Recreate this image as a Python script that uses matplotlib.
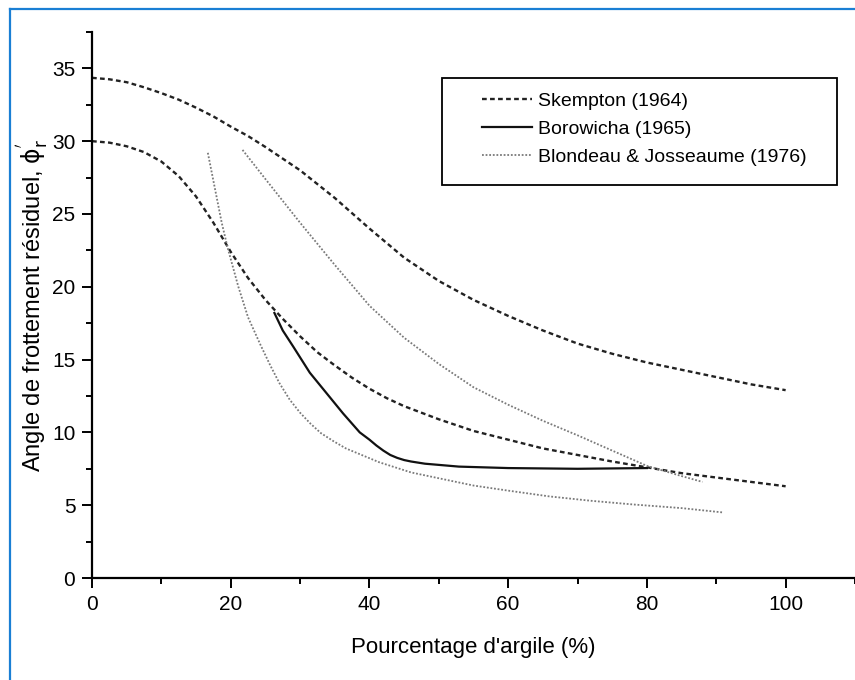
import numpy as np
import matplotlib
matplotlib.use("Agg")
from matplotlib import pyplot as plt
from matplotlib.lines import Line2D
from matplotlib.patches import Rectangle
from matplotlib.ticker import MultipleLocator

plt.rcParams['font.family'] = ['Liberation Sans', 'DejaVu Sans']

# Skempton (1964) - deux courbes enveloppes
skempton_haut_x = [0, 2.5, 5, 7.5, 10, 12.5, 15, 17.5, 20, 22.5, 25, 27.5, 30, 35, 40, 45, 50, 55, 60,
                   65, 70, 75, 80, 85, 90, 95, 100]
skempton_haut_y = [34.35, 34.25, 34.05, 33.7, 33.3, 32.85, 32.3, 31.7, 31.0, 30.35, 29.6, 28.8, 28.0,
                   26.1, 24.0, 22.0, 20.4, 19.1, 18.0, 17.0, 16.1, 15.4, 14.8, 14.3, 13.8, 13.3, 12.9]
skempton_bas_x = [0, 2.5, 5, 7.5, 10, 12.5, 15, 17.5, 20, 22.5, 25, 27.5, 30, 32.5, 35, 37.5, 40,
                  42.5, 45, 50, 55, 60, 65, 70, 75, 80, 85, 90, 95, 100]
skempton_bas_y = [30.0, 29.9, 29.65, 29.25, 28.6, 27.6, 26.2, 24.4, 22.4, 20.6, 19.1, 17.8, 16.6,
                  15.5, 14.6, 13.75, 13.0, 12.35, 11.8, 10.9, 10.1, 9.5, 8.9, 8.45, 8.0, 7.6, 7.2,
                  6.9, 6.6, 6.3]

# Borowicha (1965)
borowicha_x = [26.3, 27.5, 29, 31.4, 33.8, 36.2, 38.6, 40, 41, 42, 43, 44, 45, 46, 48, 52.9, 60, 70, 80]
borowicha_y = [18.2, 17.0, 15.9, 14.1, 12.7, 11.3, 10.0, 9.5, 9.1, 8.75, 8.45, 8.25, 8.1, 8.0, 7.85,
               7.65, 7.55, 7.5, 7.55]

# Blondeau & Josseaume (1976) - deux courbes
blondeau_a_x = [16.7, 17.7, 18.7, 19.6, 21.1, 22.5, 24.3, 25.7, 27, 28.5, 30, 31.5, 33, 34.8, 36.6,
                41.4, 46, 51, 55, 60, 66, 72, 78, 85, 91]
blondeau_a_y = [29.2, 26.8, 24.4, 22.6, 20.0, 17.9, 16.0, 14.6, 13.4, 12.25, 11.35, 10.6, 9.95, 9.4,
                8.9, 7.95, 7.25, 6.75, 6.35, 6.0, 5.6, 5.3, 5.05, 4.8, 4.5]
blondeau_b_x = [21.7, 25, 30, 35, 40, 45, 50, 55, 60, 65, 70, 75, 80, 85, 88]
blondeau_b_y = [29.4, 27.4, 24.4, 21.5, 18.7, 16.5, 14.7, 13.1, 11.9, 10.8, 9.8, 8.75, 7.7, 7.0, 6.6]

labels = ['Skempton (1964)', 'Borowicha (1965)', 'Blondeau & Josseaume (1976)']

fig = plt.figure(figsize=(8.55, 6.8), dpi=100)
ax = fig.add_axes([0.1076, 0.15, 0.8924, 0.803])

style_sk = dict(color='#222222', lw=1.7, linestyle=(0, (2, 1.4)))
style_bj = dict(color='#7a7a7a', lw=1.3, linestyle=(0, (1, 1)))

ax.plot(skempton_haut_x, skempton_haut_y, label=labels[0], **style_sk)
ax.plot(skempton_bas_x, skempton_bas_y, **style_sk)
ax.plot(borowicha_x, borowicha_y, color='#111111', lw=1.6, label=labels[1])
ax.plot(blondeau_a_x, blondeau_a_y, label=labels[2], **style_bj)
ax.plot(blondeau_b_x, blondeau_b_y, **style_bj)

ax.set_xlim(0, 110)
ax.set_ylim(0, 37.5)
ax.xaxis.set_major_locator(MultipleLocator(20))
ax.xaxis.set_minor_locator(MultipleLocator(10))
ax.yaxis.set_major_locator(MultipleLocator(5))
ax.yaxis.set_minor_locator(MultipleLocator(2.5))

ax.spines['top'].set_visible(False)
ax.spines['right'].set_visible(False)
for s in ('left', 'bottom'):
    ax.spines[s].set_linewidth(1.6)
ax.tick_params(which='major', direction='out', length=7, width=1.4, labelsize=15, pad=5)
ax.tick_params(which='minor', direction='out', length=4.5, width=1.4)

ax.set_xlabel("Pourcentage d'argile (%)", fontsize=16, labelpad=17)
ax.set_ylabel(r"Angle de frottement résiduel, $\mathrm{\phi}_{\mathrm{r}}^{'}$", fontsize=17, labelpad=0.5)

# cadre de la légende (plus large à gauche que le contenu)
ax.add_patch(Rectangle((0.459, 0.72), 0.517, 0.196, transform=ax.transAxes, fill=True,
                       facecolor='white', edgecolor='black', lw=1.3, clip_on=False, zorder=4))
leg = ax.legend(loc='upper left', bbox_to_anchor=(0.511, 0.889), fontsize=14, frameon=False,
                handlelength=2.6, handletextpad=0.3, labelspacing=0.53, borderpad=0,
                borderaxespad=0)
leg.set_zorder(5)

# cadre bleu autour de la figure
fig.add_artist(Line2D([0.0117, 0.0117], [0, 0.987], transform=fig.transFigure, color='#1a7fd4', lw=1.6))
fig.add_artist(Line2D([0.0117, 1.0], [0.987, 0.987], transform=fig.transFigure, color='#1a7fd4', lw=1.6))

fig.savefig('out.png', dpi=100)
